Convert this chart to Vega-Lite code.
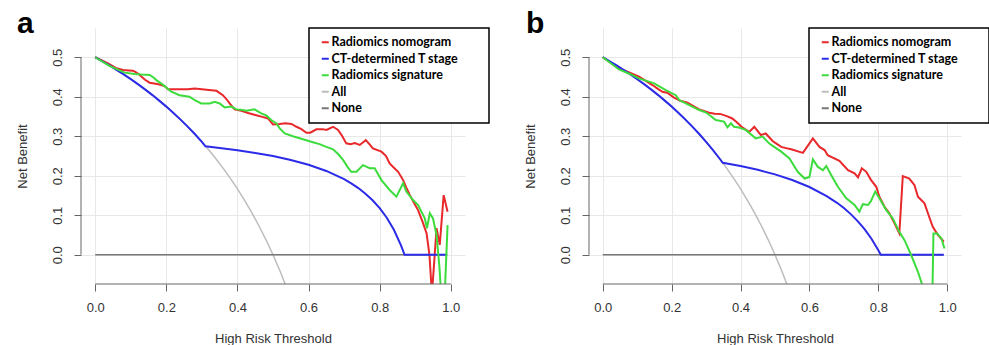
{
  "$schema": "https://vega.github.io/schema/vega-lite/v6.json",
  "padding": {"left": 16, "top": 9, "right": 0, "bottom": 0},
  "background": "white",
  "config": {
    "font": "Liberation Sans",
    "view": {"stroke": null},
    "axis": {
      "domain": false,
      "grid": true,
      "gridColor": "#e8e8e8",
      "gridWidth": 1,
      "tickColor": "#666666",
      "tickSize": 7,
      "labelFont": "Liberation Sans",
      "labelFontSize": 13,
      "labelColor": "#333333",
      "titleFont": "Liberation Sans",
      "titleFontSize": 13,
      "titleFontWeight": "normal",
      "titleColor": "#333333"
    },
    "legend": {
      "symbolType": "stroke",
      "symbolSize": 49,
      "symbolStrokeWidth": 2,
      "symbolOffset": 2,
      "labelFont": "Lato",
      "labelFontWeight": "bold",
      "labelFontSize": 12.5,
      "labelLimit": 300,
      "labelColor": "black",
      "strokeColor": "black",
      "strokeWidth": 1.5,
      "fillColor": "white",
      "padding": 8,
      "rowPadding": 3.5,
      "labelOffset": 0,
      "titleOrient": "right",
      "titleFontSize": 1,
      "titlePadding": 22,
      "titleColor": "white"
    }
  },
  "bounds": "flush",
  "spacing": 124,
  "resolve": {"legend": {"color": "independent"}},
  "datasets": {
    "a": [
      {"t":0,"nb":0.5,"model":"All"},{"t":0.02,"nb":0.4898,"model":"All"},{"t":0.04,"nb":0.4792,"model":"All"},{"t":0.06,"nb":0.4681,"model":"All"},{"t":0.08,"nb":0.4565,"model":"All"},{"t":0.1,"nb":0.4444,"model":"All"},{"t":0.12,"nb":0.4318,"model":"All"},{"t":0.14,"nb":0.4186,"model":"All"},{"t":0.16,"nb":0.4048,"model":"All"},{"t":0.18,"nb":0.3902,"model":"All"},{"t":0.2,"nb":0.375,"model":"All"},{"t":0.22,"nb":0.359,"model":"All"},{"t":0.24,"nb":0.3421,"model":"All"},{"t":0.26,"nb":0.3243,"model":"All"},{"t":0.28,"nb":0.3056,"model":"All"},{"t":0.3,"nb":0.2857,"model":"All"},{"t":0.32,"nb":0.2647,"model":"All"},{"t":0.34,"nb":0.2424,"model":"All"},{"t":0.36,"nb":0.2188,"model":"All"},{"t":0.38,"nb":0.1935,"model":"All"},{"t":0.4,"nb":0.1667,"model":"All"},{"t":0.42,"nb":0.1379,"model":"All"},{"t":0.44,"nb":0.1071,"model":"All"},{"t":0.46,"nb":0.0741,"model":"All"},{"t":0.48,"nb":0.0385,"model":"All"},{"t":0.5,"nb":0,"model":"All"},{"t":0.52,"nb":-0.0417,"model":"All"},{"t":0.54,"nb":-0.087,"model":"All"},{"t":0.56,"nb":-0.1364,"model":"All"},
      {"t":0,"nb":0,"model":"None"},{"t":0.99,"nb":0,"model":"None"},
      {"t":0,"nb":0.5,"model":"Radiomics nomogram"},{"t":0.036,"nb":0.4845,"model":"Radiomics nomogram"},{"t":0.06,"nb":0.472,"model":"Radiomics nomogram"},{"t":0.078,"nb":0.4676,"model":"Radiomics nomogram"},{"t":0.095,"nb":0.4665,"model":"Radiomics nomogram"},{"t":0.106,"nb":0.466,"model":"Radiomics nomogram"},{"t":0.115,"nb":0.462,"model":"Radiomics nomogram"},{"t":0.125,"nb":0.455,"model":"Radiomics nomogram"},{"t":0.14,"nb":0.443,"model":"Radiomics nomogram"},{"t":0.153,"nb":0.4355,"model":"Radiomics nomogram"},{"t":0.17,"nb":0.433,"model":"Radiomics nomogram"},{"t":0.181,"nb":0.431,"model":"Radiomics nomogram"},{"t":0.195,"nb":0.427,"model":"Radiomics nomogram"},{"t":0.205,"nb":0.419,"model":"Radiomics nomogram"},{"t":0.23,"nb":0.419,"model":"Radiomics nomogram"},{"t":0.26,"nb":0.4187,"model":"Radiomics nomogram"},{"t":0.28,"nb":0.421,"model":"Radiomics nomogram"},{"t":0.3,"nb":0.419,"model":"Radiomics nomogram"},{"t":0.32,"nb":0.417,"model":"Radiomics nomogram"},{"t":0.341,"nb":0.415,"model":"Radiomics nomogram"},{"t":0.359,"nb":0.404,"model":"Radiomics nomogram"},{"t":0.37,"nb":0.393,"model":"Radiomics nomogram"},{"t":0.378,"nb":0.383,"model":"Radiomics nomogram"},{"t":0.392,"nb":0.368,"model":"Radiomics nomogram"},{"t":0.411,"nb":0.3646,"model":"Radiomics nomogram"},{"t":0.43,"nb":0.359,"model":"Radiomics nomogram"},{"t":0.45,"nb":0.354,"model":"Radiomics nomogram"},{"t":0.47,"nb":0.349,"model":"Radiomics nomogram"},{"t":0.486,"nb":0.345,"model":"Radiomics nomogram"},{"t":0.5,"nb":0.33,"model":"Radiomics nomogram"},{"t":0.519,"nb":0.331,"model":"Radiomics nomogram"},{"t":0.535,"nb":0.333,"model":"Radiomics nomogram"},{"t":0.552,"nb":0.331,"model":"Radiomics nomogram"},{"t":0.566,"nb":0.324,"model":"Radiomics nomogram"},{"t":0.58,"nb":0.318,"model":"Radiomics nomogram"},{"t":0.594,"nb":0.309,"model":"Radiomics nomogram"},{"t":0.605,"nb":0.309,"model":"Radiomics nomogram"},{"t":0.622,"nb":0.3175,"model":"Radiomics nomogram"},{"t":0.64,"nb":0.318,"model":"Radiomics nomogram"},{"t":0.65,"nb":0.316,"model":"Radiomics nomogram"},{"t":0.669,"nb":0.324,"model":"Radiomics nomogram"},{"t":0.683,"nb":0.316,"model":"Radiomics nomogram"},{"t":0.695,"nb":0.3,"model":"Radiomics nomogram"},{"t":0.706,"nb":0.282,"model":"Radiomics nomogram"},{"t":0.718,"nb":0.28,"model":"Radiomics nomogram"},{"t":0.73,"nb":0.283,"model":"Radiomics nomogram"},{"t":0.744,"nb":0.278,"model":"Radiomics nomogram"},{"t":0.761,"nb":0.29,"model":"Radiomics nomogram"},{"t":0.771,"nb":0.28,"model":"Radiomics nomogram"},{"t":0.781,"nb":0.269,"model":"Radiomics nomogram"},{"t":0.805,"nb":0.261,"model":"Radiomics nomogram"},{"t":0.818,"nb":0.25,"model":"Radiomics nomogram"},{"t":0.828,"nb":0.231,"model":"Radiomics nomogram"},{"t":0.838,"nb":0.222,"model":"Radiomics nomogram"},{"t":0.852,"nb":0.21,"model":"Radiomics nomogram"},{"t":0.866,"nb":0.189,"model":"Radiomics nomogram"},{"t":0.875,"nb":0.17,"model":"Radiomics nomogram"},{"t":0.885,"nb":0.151,"model":"Radiomics nomogram"},{"t":0.896,"nb":0.132,"model":"Radiomics nomogram"},{"t":0.908,"nb":0.113,"model":"Radiomics nomogram"},{"t":0.92,"nb":0.085,"model":"Radiomics nomogram"},{"t":0.932,"nb":0.054,"model":"Radiomics nomogram"},{"t":0.94,"nb":0,"model":"Radiomics nomogram"},{"t":0.947,"nb":-0.1,"model":"Radiomics nomogram"},{"t":0.96,"nb":0.067,"model":"Radiomics nomogram"},{"t":0.969,"nb":0.025,"model":"Radiomics nomogram"},{"t":0.98,"nb":0.151,"model":"Radiomics nomogram"},{"t":0.991,"nb":0.109,"model":"Radiomics nomogram"},
      {"t":0,"nb":0.5,"model":"CT-determined T stage"},{"t":0.02,"nb":0.4898,"model":"CT-determined T stage"},{"t":0.04,"nb":0.4792,"model":"CT-determined T stage"},{"t":0.06,"nb":0.4681,"model":"CT-determined T stage"},{"t":0.08,"nb":0.4565,"model":"CT-determined T stage"},{"t":0.1,"nb":0.4444,"model":"CT-determined T stage"},{"t":0.12,"nb":0.4318,"model":"CT-determined T stage"},{"t":0.14,"nb":0.4186,"model":"CT-determined T stage"},{"t":0.16,"nb":0.4048,"model":"CT-determined T stage"},{"t":0.18,"nb":0.3902,"model":"CT-determined T stage"},{"t":0.2,"nb":0.375,"model":"CT-determined T stage"},{"t":0.22,"nb":0.359,"model":"CT-determined T stage"},{"t":0.24,"nb":0.3421,"model":"CT-determined T stage"},{"t":0.26,"nb":0.3243,"model":"CT-determined T stage"},{"t":0.28,"nb":0.3056,"model":"CT-determined T stage"},{"t":0.3,"nb":0.2857,"model":"CT-determined T stage"},{"t":0.31,"nb":0.2745,"model":"CT-determined T stage"},{"t":0.35,"nb":0.2701,"model":"CT-determined T stage"},{"t":0.4,"nb":0.2644,"model":"CT-determined T stage"},{"t":0.45,"nb":0.2578,"model":"CT-determined T stage"},{"t":0.5,"nb":0.2498,"model":"CT-determined T stage"},{"t":0.55,"nb":0.24,"model":"CT-determined T stage"},{"t":0.6,"nb":0.2279,"model":"CT-determined T stage"},{"t":0.65,"nb":0.2122,"model":"CT-determined T stage"},{"t":0.7,"nb":0.1913,"model":"CT-determined T stage"},{"t":0.72,"nb":0.1808,"model":"CT-determined T stage"},{"t":0.74,"nb":0.1688,"model":"CT-determined T stage"},{"t":0.76,"nb":0.1547,"model":"CT-determined T stage"},{"t":0.78,"nb":0.1381,"model":"CT-determined T stage"},{"t":0.8,"nb":0.1181,"model":"CT-determined T stage"},{"t":0.82,"nb":0.0937,"model":"CT-determined T stage"},{"t":0.84,"nb":0.0632,"model":"CT-determined T stage"},{"t":0.86,"nb":0.024,"model":"CT-determined T stage"},{"t":0.87,"nb":0,"model":"CT-determined T stage"},{"t":0.99,"nb":0,"model":"CT-determined T stage"},
      {"t":0,"nb":0.5,"model":"Radiomics signature"},{"t":0.04,"nb":0.478,"model":"Radiomics signature"},{"t":0.0825,"nb":0.461,"model":"Radiomics signature"},{"t":0.111,"nb":0.4575,"model":"Radiomics signature"},{"t":0.13,"nb":0.456,"model":"Radiomics signature"},{"t":0.153,"nb":0.455,"model":"Radiomics signature"},{"t":0.165,"nb":0.448,"model":"Radiomics signature"},{"t":0.172,"nb":0.442,"model":"Radiomics signature"},{"t":0.191,"nb":0.43,"model":"Radiomics signature"},{"t":0.214,"nb":0.4127,"model":"Radiomics signature"},{"t":0.237,"nb":0.404,"model":"Radiomics signature"},{"t":0.265,"nb":0.4,"model":"Radiomics signature"},{"t":0.28,"nb":0.3916,"model":"Radiomics signature"},{"t":0.298,"nb":0.383,"model":"Radiomics signature"},{"t":0.322,"nb":0.383,"model":"Radiomics signature"},{"t":0.336,"nb":0.387,"model":"Radiomics signature"},{"t":0.35,"nb":0.383,"model":"Radiomics signature"},{"t":0.364,"nb":0.373,"model":"Radiomics signature"},{"t":0.383,"nb":0.375,"model":"Radiomics signature"},{"t":0.397,"nb":0.368,"model":"Radiomics signature"},{"t":0.41,"nb":0.367,"model":"Radiomics signature"},{"t":0.425,"nb":0.3646,"model":"Radiomics signature"},{"t":0.448,"nb":0.368,"model":"Radiomics signature"},{"t":0.467,"nb":0.358,"model":"Radiomics signature"},{"t":0.482,"nb":0.352,"model":"Radiomics signature"},{"t":0.495,"nb":0.341,"model":"Radiomics signature"},{"t":0.509,"nb":0.333,"model":"Radiomics signature"},{"t":0.519,"nb":0.32,"model":"Radiomics signature"},{"t":0.533,"nb":0.307,"model":"Radiomics signature"},{"t":0.556,"nb":0.3,"model":"Radiomics signature"},{"t":0.575,"nb":0.295,"model":"Radiomics signature"},{"t":0.594,"nb":0.29,"model":"Radiomics signature"},{"t":0.612,"nb":0.285,"model":"Radiomics signature"},{"t":0.631,"nb":0.28,"model":"Radiomics signature"},{"t":0.65,"nb":0.273,"model":"Radiomics signature"},{"t":0.669,"nb":0.267,"model":"Radiomics signature"},{"t":0.683,"nb":0.255,"model":"Radiomics signature"},{"t":0.697,"nb":0.24,"model":"Radiomics signature"},{"t":0.71,"nb":0.222,"model":"Radiomics signature"},{"t":0.72,"nb":0.21,"model":"Radiomics signature"},{"t":0.735,"nb":0.21,"model":"Radiomics signature"},{"t":0.753,"nb":0.227,"model":"Radiomics signature"},{"t":0.772,"nb":0.219,"model":"Radiomics signature"},{"t":0.786,"nb":0.219,"model":"Radiomics signature"},{"t":0.805,"nb":0.189,"model":"Radiomics signature"},{"t":0.828,"nb":0.164,"model":"Radiomics signature"},{"t":0.847,"nb":0.147,"model":"Radiomics signature"},{"t":0.866,"nb":0.181,"model":"Radiomics signature"},{"t":0.875,"nb":0.16,"model":"Radiomics signature"},{"t":0.894,"nb":0.1385,"model":"Radiomics signature"},{"t":0.908,"nb":0.126,"model":"Radiomics signature"},{"t":0.927,"nb":0.092,"model":"Radiomics signature"},{"t":0.933,"nb":0.067,"model":"Radiomics signature"},{"t":0.941,"nb":0.105,"model":"Radiomics signature"},{"t":0.95,"nb":0.092,"model":"Radiomics signature"},{"t":0.96,"nb":0.05,"model":"Radiomics signature"},{"t":0.968,"nb":-0.03,"model":"Radiomics signature"},{"t":0.973,"nb":-0.1,"model":"Radiomics signature"},{"t":0.983,"nb":-0.1,"model":"Radiomics signature"},{"t":0.991,"nb":0.075,"model":"Radiomics signature"}
    ],
    "b": [
      {"t":0,"nb":0.5,"model":"All"},{"t":0.02,"nb":0.4898,"model":"All"},{"t":0.04,"nb":0.4792,"model":"All"},{"t":0.06,"nb":0.4681,"model":"All"},{"t":0.08,"nb":0.4565,"model":"All"},{"t":0.1,"nb":0.4444,"model":"All"},{"t":0.12,"nb":0.4318,"model":"All"},{"t":0.14,"nb":0.4186,"model":"All"},{"t":0.16,"nb":0.4048,"model":"All"},{"t":0.18,"nb":0.3902,"model":"All"},{"t":0.2,"nb":0.375,"model":"All"},{"t":0.22,"nb":0.359,"model":"All"},{"t":0.24,"nb":0.3421,"model":"All"},{"t":0.26,"nb":0.3243,"model":"All"},{"t":0.28,"nb":0.3056,"model":"All"},{"t":0.3,"nb":0.2857,"model":"All"},{"t":0.32,"nb":0.2647,"model":"All"},{"t":0.34,"nb":0.2424,"model":"All"},{"t":0.36,"nb":0.2188,"model":"All"},{"t":0.38,"nb":0.1935,"model":"All"},{"t":0.4,"nb":0.1667,"model":"All"},{"t":0.42,"nb":0.1379,"model":"All"},{"t":0.44,"nb":0.1071,"model":"All"},{"t":0.46,"nb":0.0741,"model":"All"},{"t":0.48,"nb":0.0385,"model":"All"},{"t":0.5,"nb":0,"model":"All"},{"t":0.52,"nb":-0.0417,"model":"All"},{"t":0.54,"nb":-0.087,"model":"All"},{"t":0.56,"nb":-0.1364,"model":"All"},
      {"t":0,"nb":0,"model":"None"},{"t":0.99,"nb":0,"model":"None"},
      {"t":0,"nb":0.5,"model":"Radiomics nomogram"},{"t":0.047,"nb":0.472,"model":"Radiomics nomogram"},{"t":0.08,"nb":0.46,"model":"Radiomics nomogram"},{"t":0.105,"nb":0.4506,"model":"Radiomics nomogram"},{"t":0.125,"nb":0.44,"model":"Radiomics nomogram"},{"t":0.144,"nb":0.4296,"model":"Radiomics nomogram"},{"t":0.16,"nb":0.42,"model":"Radiomics nomogram"},{"t":0.173,"nb":0.4127,"model":"Radiomics nomogram"},{"t":0.187,"nb":0.41,"model":"Radiomics nomogram"},{"t":0.207,"nb":0.398,"model":"Radiomics nomogram"},{"t":0.225,"nb":0.39,"model":"Radiomics nomogram"},{"t":0.246,"nb":0.385,"model":"Radiomics nomogram"},{"t":0.262,"nb":0.377,"model":"Radiomics nomogram"},{"t":0.28,"nb":0.368,"model":"Radiomics nomogram"},{"t":0.309,"nb":0.3595,"model":"Radiomics nomogram"},{"t":0.325,"nb":0.357,"model":"Radiomics nomogram"},{"t":0.343,"nb":0.356,"model":"Radiomics nomogram"},{"t":0.36,"nb":0.351,"model":"Radiomics nomogram"},{"t":0.376,"nb":0.345,"model":"Radiomics nomogram"},{"t":0.39,"nb":0.335,"model":"Radiomics nomogram"},{"t":0.405,"nb":0.3225,"model":"Radiomics nomogram"},{"t":0.425,"nb":0.311,"model":"Radiomics nomogram"},{"t":0.44,"nb":0.324,"model":"Radiomics nomogram"},{"t":0.459,"nb":0.303,"model":"Radiomics nomogram"},{"t":0.473,"nb":0.307,"model":"Radiomics nomogram"},{"t":0.493,"nb":0.288,"model":"Radiomics nomogram"},{"t":0.503,"nb":0.282,"model":"Radiomics nomogram"},{"t":0.518,"nb":0.273,"model":"Radiomics nomogram"},{"t":0.532,"nb":0.27,"model":"Radiomics nomogram"},{"t":0.547,"nb":0.267,"model":"Radiomics nomogram"},{"t":0.581,"nb":0.258,"model":"Radiomics nomogram"},{"t":0.61,"nb":0.2946,"model":"Radiomics nomogram"},{"t":0.629,"nb":0.273,"model":"Radiomics nomogram"},{"t":0.644,"nb":0.265,"model":"Radiomics nomogram"},{"t":0.653,"nb":0.252,"model":"Radiomics nomogram"},{"t":0.687,"nb":0.238,"model":"Radiomics nomogram"},{"t":0.712,"nb":0.214,"model":"Radiomics nomogram"},{"t":0.731,"nb":0.206,"model":"Radiomics nomogram"},{"t":0.741,"nb":0.196,"model":"Radiomics nomogram"},{"t":0.752,"nb":0.219,"model":"Radiomics nomogram"},{"t":0.765,"nb":0.21,"model":"Radiomics nomogram"},{"t":0.779,"nb":0.189,"model":"Radiomics nomogram"},{"t":0.794,"nb":0.172,"model":"Radiomics nomogram"},{"t":0.803,"nb":0.147,"model":"Radiomics nomogram"},{"t":0.818,"nb":0.1215,"model":"Radiomics nomogram"},{"t":0.832,"nb":0.105,"model":"Radiomics nomogram"},{"t":0.847,"nb":0.0795,"model":"Radiomics nomogram"},{"t":0.861,"nb":0.054,"model":"Radiomics nomogram"},{"t":0.871,"nb":0.199,"model":"Radiomics nomogram"},{"t":0.89,"nb":0.193,"model":"Radiomics nomogram"},{"t":0.905,"nb":0.176,"model":"Radiomics nomogram"},{"t":0.915,"nb":0.147,"model":"Radiomics nomogram"},{"t":0.934,"nb":0.13,"model":"Radiomics nomogram"},{"t":0.944,"nb":0.105,"model":"Radiomics nomogram"},{"t":0.958,"nb":0.071,"model":"Radiomics nomogram"},{"t":0.973,"nb":0.05,"model":"Radiomics nomogram"},{"t":0.99,"nb":0.033,"model":"Radiomics nomogram"},
      {"t":0,"nb":0.5,"model":"CT-determined T stage"},{"t":0.02,"nb":0.4898,"model":"CT-determined T stage"},{"t":0.04,"nb":0.4792,"model":"CT-determined T stage"},{"t":0.06,"nb":0.4681,"model":"CT-determined T stage"},{"t":0.08,"nb":0.4565,"model":"CT-determined T stage"},{"t":0.1,"nb":0.4444,"model":"CT-determined T stage"},{"t":0.12,"nb":0.4318,"model":"CT-determined T stage"},{"t":0.14,"nb":0.4186,"model":"CT-determined T stage"},{"t":0.16,"nb":0.4048,"model":"CT-determined T stage"},{"t":0.18,"nb":0.3902,"model":"CT-determined T stage"},{"t":0.2,"nb":0.375,"model":"CT-determined T stage"},{"t":0.22,"nb":0.359,"model":"CT-determined T stage"},{"t":0.24,"nb":0.3421,"model":"CT-determined T stage"},{"t":0.26,"nb":0.3243,"model":"CT-determined T stage"},{"t":0.28,"nb":0.3056,"model":"CT-determined T stage"},{"t":0.3,"nb":0.2857,"model":"CT-determined T stage"},{"t":0.32,"nb":0.2647,"model":"CT-determined T stage"},{"t":0.34,"nb":0.2424,"model":"CT-determined T stage"},{"t":0.3485,"nb":0.2328,"model":"CT-determined T stage"},{"t":0.4,"nb":0.2248,"model":"CT-determined T stage"},{"t":0.45,"nb":0.2151,"model":"CT-determined T stage"},{"t":0.5,"nb":0.2035,"model":"CT-determined T stage"},{"t":0.55,"nb":0.1893,"model":"CT-determined T stage"},{"t":0.6,"nb":0.1715,"model":"CT-determined T stage"},{"t":0.65,"nb":0.1486,"model":"CT-determined T stage"},{"t":0.68,"nb":0.1315,"model":"CT-determined T stage"},{"t":0.7,"nb":0.1182,"model":"CT-determined T stage"},{"t":0.72,"nb":0.1029,"model":"CT-determined T stage"},{"t":0.74,"nb":0.0853,"model":"CT-determined T stage"},{"t":0.76,"nb":0.0648,"model":"CT-determined T stage"},{"t":0.78,"nb":0.0406,"model":"CT-determined T stage"},{"t":0.8,"nb":0.0115,"model":"CT-determined T stage"},{"t":0.807,"nb":0,"model":"CT-determined T stage"},{"t":0.99,"nb":0,"model":"CT-determined T stage"},
      {"t":0,"nb":0.5,"model":"Radiomics signature"},{"t":0.047,"nb":0.469,"model":"Radiomics signature"},{"t":0.08,"nb":0.457,"model":"Radiomics signature"},{"t":0.105,"nb":0.4466,"model":"Radiomics signature"},{"t":0.149,"nb":0.434,"model":"Radiomics signature"},{"t":0.183,"nb":0.417,"model":"Radiomics signature"},{"t":0.212,"nb":0.404,"model":"Radiomics signature"},{"t":0.222,"nb":0.3916,"model":"Radiomics signature"},{"t":0.251,"nb":0.379,"model":"Radiomics signature"},{"t":0.28,"nb":0.3663,"model":"Radiomics signature"},{"t":0.3,"nb":0.36,"model":"Radiomics signature"},{"t":0.315,"nb":0.35,"model":"Radiomics signature"},{"t":0.328,"nb":0.341,"model":"Radiomics signature"},{"t":0.352,"nb":0.337,"model":"Radiomics signature"},{"t":0.362,"nb":0.3225,"model":"Radiomics signature"},{"t":0.372,"nb":0.3327,"model":"Radiomics signature"},{"t":0.381,"nb":0.324,"model":"Radiomics signature"},{"t":0.395,"nb":0.322,"model":"Radiomics signature"},{"t":0.415,"nb":0.316,"model":"Radiomics signature"},{"t":0.444,"nb":0.2946,"model":"Radiomics signature"},{"t":0.464,"nb":0.299,"model":"Radiomics signature"},{"t":0.483,"nb":0.282,"model":"Radiomics signature"},{"t":0.489,"nb":0.278,"model":"Radiomics signature"},{"t":0.518,"nb":0.261,"model":"Radiomics signature"},{"t":0.542,"nb":0.244,"model":"Radiomics signature"},{"t":0.566,"nb":0.21,"model":"Radiomics signature"},{"t":0.586,"nb":0.193,"model":"Radiomics signature"},{"t":0.6,"nb":0.197,"model":"Radiomics signature"},{"t":0.61,"nb":0.2415,"model":"Radiomics signature"},{"t":0.624,"nb":0.223,"model":"Radiomics signature"},{"t":0.639,"nb":0.214,"model":"Radiomics signature"},{"t":0.649,"nb":0.2245,"model":"Radiomics signature"},{"t":0.663,"nb":0.202,"model":"Radiomics signature"},{"t":0.6825,"nb":0.172,"model":"Radiomics signature"},{"t":0.707,"nb":0.143,"model":"Radiomics signature"},{"t":0.731,"nb":0.126,"model":"Radiomics signature"},{"t":0.745,"nb":0.109,"model":"Radiomics signature"},{"t":0.755,"nb":0.128,"model":"Radiomics signature"},{"t":0.77,"nb":0.126,"model":"Radiomics signature"},{"t":0.778,"nb":0.135,"model":"Radiomics signature"},{"t":0.791,"nb":0.16,"model":"Radiomics signature"},{"t":0.803,"nb":0.143,"model":"Radiomics signature"},{"t":0.823,"nb":0.113,"model":"Radiomics signature"},{"t":0.842,"nb":0.092,"model":"Radiomics signature"},{"t":0.861,"nb":0.058,"model":"Radiomics signature"},{"t":0.876,"nb":0.037,"model":"Radiomics signature"},{"t":0.895,"nb":0,"model":"Radiomics signature"},{"t":0.915,"nb":-0.043,"model":"Radiomics signature"},{"t":0.927,"nb":-0.075,"model":"Radiomics signature"},{"t":0.935,"nb":-0.12,"model":"Radiomics signature"},{"t":0.95,"nb":-0.12,"model":"Radiomics signature"},{"t":0.957,"nb":-0.1,"model":"Radiomics signature"},{"t":0.96,"nb":0.054,"model":"Radiomics signature"},{"t":0.971,"nb":0.054,"model":"Radiomics signature"},{"t":0.983,"nb":0.0415,"model":"Radiomics signature"},{"t":0.992,"nb":0.016,"model":"Radiomics signature"}
    ]
  },
  "hconcat": [
    {
      "width": 384,
      "height": 256,
      "title": {"text": "a", "anchor": "start", "frame": "group", "orient": "top", "dx": -64, "dy": 36, "offset": 0, "baseline": "alphabetic", "font": "Liberation Sans", "fontSize": 30, "fontWeight": "bold", "color": "black"},
      "layer": [
        {
          "data": {"name": "a"},
          "transform": [{"filter": "datum.model === 'All' || datum.model === 'None'"}],
          "mark": {"type": "line", "strokeWidth": 1.5, "clip": true},
          "encoding": {
            "x": {"field": "t", "type": "quantitative", "scale": {"domain": [-0.04, 1.04], "nice": false, "zero": false},
                  "axis": {"values": [0, 0.2, 0.4, 0.6, 0.8, 1], "format": ".1f", "title": "High Risk Threshold", "labelPadding": 10, "titleY": 48, "titleBaseline": "top"}},
            "y": {"field": "nb", "type": "quantitative", "scale": {"domain": [-0.074, 0.574], "nice": false, "zero": false},
                  "axis": {"values": [0, 0.1, 0.2, 0.3, 0.4, 0.5], "format": ".1f", "title": "Net Benefit", "labelAngle": 270, "labelAlign": "center", "labelBaseline": "bottom", "labelPadding": 9.6, "titleX": -52, "titleY": 128, "titleAngle": 270, "titleAlign": "center", "titleBaseline": "bottom"}},
            "color": {"field": "model", "type": "nominal",
                      "scale": {"domain": ["Radiomics nomogram", "CT-determined T stage", "Radiomics signature", "All", "None"], "range": ["#e8282b", "#2b2be8", "#3ddc3d", "#bdbdbd", "#777777"]},
                      "legend": {"orient": "none", "legendX": 228, "legendY": 0, "title": "\u2800"}}
          }
        },
        {
          "data": {"name": "a"},
          "transform": [{"filter": "datum.model !== 'All' && datum.model !== 'None'"}],
          "mark": {"type": "line", "strokeWidth": 2, "clip": true},
          "encoding": {
            "x": {"field": "t", "type": "quantitative"},
            "y": {"field": "nb", "type": "quantitative"},
            "color": {"field": "model", "type": "nominal"}
          }
        },
        {
          "data": {"values": [{}]},
          "mark": {"type": "rule", "color": "#666666", "strokeWidth": 1},
          "encoding": {
            "x": {"datum": -0.04, "type": "quantitative"},
            "y": {"datum": 0, "type": "quantitative"},
            "y2": {"datum": 0.5}
          }
        },
        {
          "data": {"values": [{}]},
          "mark": {"type": "rule", "color": "#666666", "strokeWidth": 1},
          "encoding": {
            "y": {"datum": -0.074, "type": "quantitative"},
            "x": {"datum": 0, "type": "quantitative"},
            "x2": {"datum": 1}
          }
        }
      ]
    },
    {
      "width": 372,
      "height": 256,
      "title": {"text": "b", "anchor": "start", "frame": "group", "orient": "top", "dx": -63, "dy": 36, "offset": 0, "baseline": "alphabetic", "font": "Liberation Sans", "fontSize": 30, "fontWeight": "bold", "color": "black"},
      "layer": [
        {
          "data": {"name": "b"},
          "transform": [{"filter": "datum.model === 'All' || datum.model === 'None'"}],
          "mark": {"type": "line", "strokeWidth": 1.5, "clip": true},
          "encoding": {
            "x": {"field": "t", "type": "quantitative", "scale": {"domain": [-0.04, 1.04], "nice": false, "zero": false},
                  "axis": {"values": [0, 0.2, 0.4, 0.6, 0.8, 1], "format": ".1f", "title": "High Risk Threshold", "labelPadding": 10, "titleY": 48, "titleBaseline": "top"}},
            "y": {"field": "nb", "type": "quantitative", "scale": {"domain": [-0.074, 0.574], "nice": false, "zero": false},
                  "axis": {"values": [0, 0.1, 0.2, 0.3, 0.4, 0.5], "format": ".1f", "title": "Net Benefit", "labelAngle": 270, "labelAlign": "center", "labelBaseline": "bottom", "labelPadding": 9.6, "titleX": -52, "titleY": 128, "titleAngle": 270, "titleAlign": "center", "titleBaseline": "bottom"}},
            "color": {"field": "model", "type": "nominal",
                      "scale": {"domain": ["Radiomics nomogram", "CT-determined T stage", "Radiomics signature", "All", "None"], "range": ["#e8282b", "#2b2be8", "#3ddc3d", "#bdbdbd", "#777777"]},
                      "legend": {"orient": "none", "legendX": 220, "legendY": 0, "title": "\u2800"}}
          }
        },
        {
          "data": {"name": "b"},
          "transform": [{"filter": "datum.model !== 'All' && datum.model !== 'None'"}],
          "mark": {"type": "line", "strokeWidth": 2, "clip": true},
          "encoding": {
            "x": {"field": "t", "type": "quantitative"},
            "y": {"field": "nb", "type": "quantitative"},
            "color": {"field": "model", "type": "nominal"}
          }
        },
        {
          "data": {"values": [{}]},
          "mark": {"type": "rule", "color": "#666666", "strokeWidth": 1},
          "encoding": {
            "x": {"datum": -0.04, "type": "quantitative"},
            "y": {"datum": 0, "type": "quantitative"},
            "y2": {"datum": 0.5}
          }
        },
        {
          "data": {"values": [{}]},
          "mark": {"type": "rule", "color": "#666666", "strokeWidth": 1},
          "encoding": {
            "y": {"datum": -0.074, "type": "quantitative"},
            "x": {"datum": 0, "type": "quantitative"},
            "x2": {"datum": 1}
          }
        }
      ]
    }
  ]
}
